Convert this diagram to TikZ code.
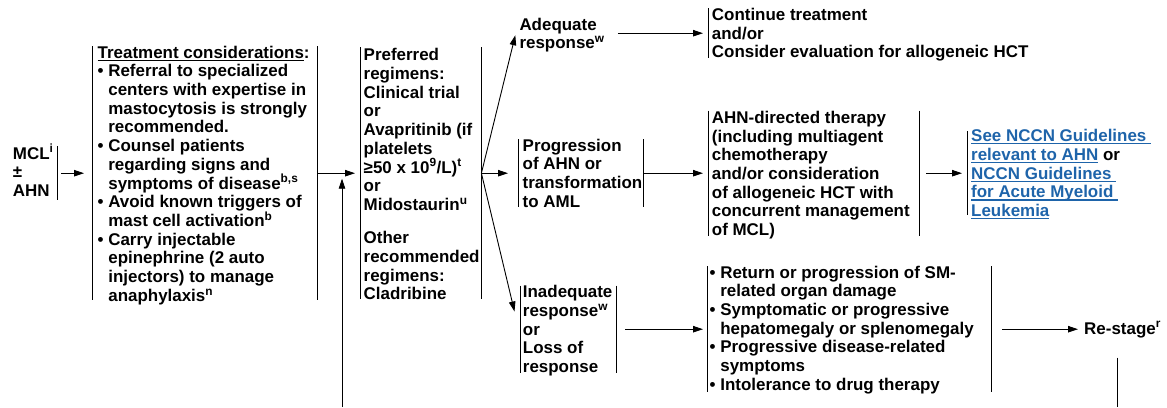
\documentclass[tikz,border=0pt]{standalone}
\usepackage{fontspec}
\setmainfont{Liberation Sans}
\usetikzlibrary{arrows.meta,calc}
\definecolor{link}{RGB}{30,100,170}
\newcommand\sups[1]{\smash{\textsuperscript{#1}}}
\newcommand\bi{\hphantom{•\ }}
\newcommand\ulx[1]{\setbox0=\hbox{#1}\rlap{\rule[-2.6pt]{\wd0}{1.1pt}}\box0}
\newcommand\lk[1]{\textcolor{link}{\ulx{#1}}}
\begin{document}
\begin{tikzpicture}[x=1pt,y=-1pt,
  txt/.style={anchor=north west, inner sep=0pt, align=left, font=\fontsize{16.95}{18.7}\selectfont\bfseries},
  box/.style={anchor=north west, inner sep=0pt, draw=none},
  bar/.style={draw=black, line width=1pt},
  line/.style={draw=black, line width=0.9pt},
  arr/.style={line, -{Triangle[length=10pt,width=6.5pt]}}]
\useasboundingbox (0,0) rectangle (1167,407);

% boxes (bar frames)
\node[box, minimum width=47pt,  minimum height=54pt]  (mclbox)  at (10,146) {};
\node[box, minimum width=224.5pt, minimum height=254pt] (tcbox) at (92.5,46) {};
\node[box, minimum width=121pt, minimum height=252pt] (prbox)  at (360,47) {};
\node[box, minimum width=125pt, minimum height=68pt]  (pgbox)  at (518,139) {};
\node[box, minimum width=96pt,  minimum height=87pt]  (iabox)  at (520,285.5) {};
\node[box, minimum width=327pt, minimum height=50pt]  (ctbox)  at (708,8) {};
\node[box, minimum width=211pt, minimum height=125pt] (ahnbox) at (708,110.5) {};
\node[box, minimum width=153pt, minimum height=84pt]  (nccnbox) at (967,131) {};
\node[box, minimum width=284pt, minimum height=126pt] (smbox)  at (707,266) {};

% bars
\draw[bar] (mclbox.north east) -- (mclbox.south east);
\foreach \b in {tcbox,prbox,pgbox,iabox,ahnbox,smbox}{
  \draw[bar] (\b.north west) -- (\b.south west);
  \draw[bar] (\b.north east) -- (\b.south east);
}
\draw[bar] (ctbox.north west) -- (ctbox.south west);
\draw[bar] (nccnbox.north west) -- (nccnbox.south west);

% texts
\node[txt] (mcl) at (12.7,145.9) {\strut MCL\sups{i}\\±\\AHN};
\node[txt] (tc) at (97.5,44.9) {\strut\ulx{Treatment considerations}:\\
•\ Referral to specialized\\
\bi centers with expertise in\\
\bi mastocytosis is strongly\\
\bi recommended.\\
•\ Counsel patients\\
\bi regarding signs and\\
\bi symptoms of disease\sups{b,s}\\
•\ Avoid known triggers of\\
\bi mast cell activation\sups{b}\\
•\ Carry injectable\\
\bi epinephrine (2 auto\\
\bi injectors) to manage\\
\bi anaphylaxis\sups{n}};
\node[txt] (pr) at (363.5,47.6) {\strut Preferred\\
regimens:\\
Clinical trial\\
or\\
Avapritinib (if\\
platelets\\
≥50 x 10\sups{9}/L)\sups{t}\\
or\\
Midostaurin\sups{u}\\[14.6pt]
Other\\
recommended\\
regimens:\\
Cladribine};
\node[txt] (ad) at (519.3,16.9) {\strut Adequate\\response\sups{w}};
\node[txt] (pg) at (522.5,137.9) {\strut Progression\\of AHN or\\transformation\\to AML};
\node[txt] (ia) at (522.7,284.6) {\strut Inadequate\\response\sups{w}\\or\\Loss of\\response};
\node[txt] (ct) at (711.7,7.2) {\strut Continue treatment\\and/or\\Consider evaluation for allogeneic HCT};
\node[txt] (ahn) at (711.7,110.2) {\strut AHN-directed therapy\\(including multiagent\\chemotherapy\\and/or consideration\\of allogeneic HCT with\\concurrent management\\of MCL)};
\node[txt] (nccn) at (971,128.6) {\strut\lk{See NCCN Guidelines }\\\lk{relevant to AHN} or\\\lk{NCCN Guidelines }\\\lk{for Acute Myeloid }\\\lk{Leukemia}};
\node[txt] (sm) at (709.5,264.9) {\strut •\ Return or progression of SM-\\
\bi related organ damage\\
•\ Symptomatic or progressive\\
\bi hepatomegaly or splenomegaly\\
•\ Progressive disease-related\\
\bi symptoms\\
•\ Intolerance to drug therapy};
\node[txt] (rs) at (1084,320.9) {\strut Re-stage\sups{r}};

% connectors
\draw[arr, shorten <=4pt, shorten >=8.5pt] (mclbox.east) -- (tcbox.west);
\draw[arr, shorten >=5pt] (tcbox.east) -- (prbox.west);
\coordinate (loopIn) at (342,407);
\draw[arr] (loopIn) -- ($(loopIn |- tcbox.east)+(0,5.5)$);
\draw[arr] (prbox.east) -- ($(ad.west)+(-4,0.5)$);
\draw[arr, shorten >=10pt] (prbox.east) -- (pgbox.west);
\draw[arr] (prbox.east) -- ($(iabox.north west)+(-5.5,26)$);
\draw[arr, shorten >=5pt] ($(ad.east |- ctbox.west)+(13,0)$) -- (ctbox.west);
\draw[arr, shorten >=5pt] (pgbox.east) -- (ahnbox.west);
\draw[arr, shorten <=7pt, shorten >=5pt] (ahnbox.east) -- (nccnbox.west);
\draw[arr, shorten <=9pt, shorten >=4pt] (iabox.east) -- (smbox.west);
\draw[arr, shorten <=11pt, shorten >=6pt] (smbox.east) -- (smbox.east -| rs.west);
\coordinate (rsTop) at ($(rs.south)+(0,17.5)$);
\coordinate (rsLoop) at (1117,407);
\draw[line] (rsTop -| rsLoop) -- (rsLoop);
\end{tikzpicture}
\end{document}
